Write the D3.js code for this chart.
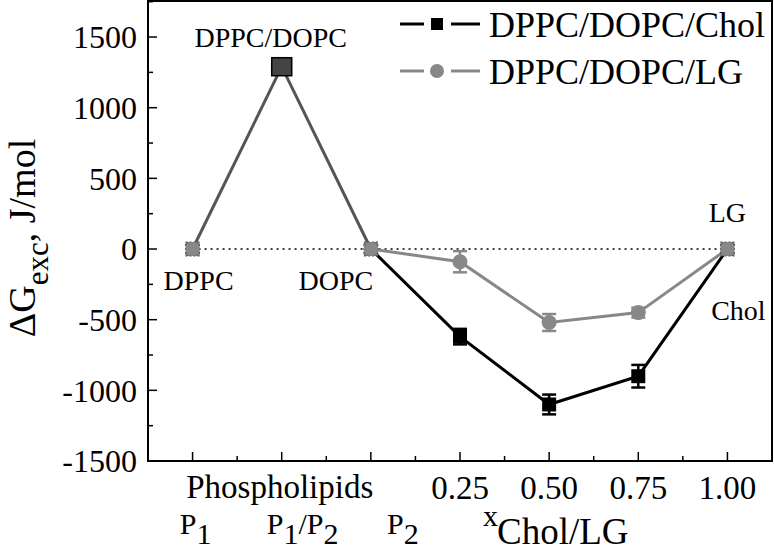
<!DOCTYPE html>
<html><head><meta charset="utf-8">
<script src="https://cdn.jsdelivr.net/npm/d3@7/dist/d3.min.js"></script>
<style>body{margin:0;background:#fff}svg{display:block}svg text{font-family:'Liberation Serif','Times New Roman',Tinos,serif}</style>
</head><body>
<svg id="c" width="774" height="551"></svg>
<script>
// Data
const categories = ["P1","P1/P2","P2","0.25","0.50","0.75","1.00"];
const phospholipidValues = [0, 1290, 0];
const cholValues = [0, -620, -1100, -900, 0];   // P2, 0.25, 0.50, 0.75, 1.00
const cholErrors = [0, 55, 70, 80, 0];
const lgValues = [0, -90, -520, -450, 0];
const lgErrors = [0, 75, 60, 35, 0];
const yTicks = [-1500, -1000, -500, 0, 500, 1000, 1500];
const seriesNames = ["DPPC/DOPC/Chol", "DPPC/DOPC/LG"];

const FONT = "'Liberation Serif','Times New Roman',Tinos,serif";
const svg = d3.select("#c");
const L = 148, R = 772, T = 1, B = 461;
const x = d3.scaleLinear().domain([-0.5, 6.5]).range([L, R]);
const y = d3.scaleLinear().domain([-1500, 1755]).range([B, T]);

// frame
svg.append("rect").attr("x", L).attr("y", T).attr("width", R - L).attr("height", B - T)
  .attr("fill", "none").attr("stroke", "#000").attr("stroke-width", 2);

// y axis
const yAxis = d3.axisLeft(y).tickValues(yTicks).tickSize(0).tickPadding(11).tickFormat(d => String(d));
const ga = svg.append("g").attr("transform", `translate(${L},0)`).call(yAxis);
ga.attr("font-family", FONT).attr("font-size", 32);
ga.select(".domain").remove();
ga.selectAll("text").attr("fill", "#000").attr("dy", "0.34em")
  .style("font-family", FONT).style("font-size", "32px");
const yMinor = d3.range(-1500, 1751, 250);
svg.append("g").selectAll("line").data(yMinor).join("line")
  .attr("x1", L).attr("x2", d => L + (d % 500 === 0 ? 9 : 5))
  .attr("y1", d => y(d)).attr("y2", d => y(d)).attr("stroke", "#000").attr("stroke-width", 1.5);

// x ticks inside
const xTickVals = d3.range(0, 6.01, 0.5);
svg.append("g").selectAll("line").data(xTickVals).join("line")
  .attr("x1", d => x(d)).attr("x2", d => x(d))
  .attr("y1", B).attr("y2", d => B - (Number.isInteger(d) ? 9 : 5))
  .attr("stroke", "#000").attr("stroke-width", 1.5);

// x tick labels 0.25..1.00
svg.append("g").selectAll("text").data(categories.slice(3)).join("text")
  .attr("x", (d, i) => x(i + 3)).attr("y", 499).attr("text-anchor", "middle")
  .attr("font-size", 33).text(d => d);
svg.append("text").attr("x", x(1) - 2).attr("y", 498).attr("text-anchor", "middle")
  .attr("font-size", 33).text("Phospholipids");

// P1, P1/P2, P2 labels with subscripts
function subLabel(xx, parts) {
  const t = svg.append("text").attr("x", xx).attr("y", 534).attr("text-anchor", "middle").attr("font-size", 30);
  parts.forEach(p => {
    const ts = t.append("tspan").text(p[0]);
    if (p[1] === "sub") ts.attr("dy", 10); else ts.attr("dy", -10);
  });
  t.select("tspan").attr("dy", 0);
}
subLabel(x(0) + 3, [["P"], ["1", "sub"]]);
subLabel(x(1) + 21, [["P"], ["1", "sub"], ["/P"], ["2", "sub"]]);
subLabel(x(2) + 32, [["P"], ["2", "sub"]]);
// x_Chol/LG
const xl = svg.append("text").attr("x", 483).attr("y", 526).attr("font-size", 30);
xl.append("tspan").text("x");
xl.append("tspan").attr("dy", 18).attr("font-size", 37).attr("dx", -1).text("Chol/LG");

// y axis title
const yt = svg.append("text").attr("transform", "translate(35,238) rotate(-90)")
  .attr("text-anchor", "middle").attr("font-size", 38);
yt.append("tspan").text("ΔG");
yt.append("tspan").attr("dy", 13).attr("font-size", 31).text("exc");
yt.append("tspan").attr("dy", -13).text(", J/mol");

// zero dotted line
svg.append("line").attr("x1", x(0)).attr("x2", x(6)).attr("y1", y(0)).attr("y2", y(0))
  .attr("stroke", "#000").attr("stroke-width", 1.5).attr("stroke-dasharray", "2,4");

const line = d3.line().x(d => x(d[0])).y(d => y(d[1]));

// phospholipid line
svg.append("path").datum(phospholipidValues.map((v, i) => [i, v])).attr("d", line)
  .attr("fill", "none").attr("stroke", "#555").attr("stroke-width", 3);

const cholPts = cholValues.map((v, i) => [i + 2, v, cholErrors[i]]);
const lgPts = lgValues.map((v, i) => [i + 2, v, lgErrors[i]]);

svg.append("path").datum(lgPts).attr("d", line).attr("fill", "none").attr("stroke", "#888").attr("stroke-width", 3);
svg.append("path").datum(cholPts).attr("d", line).attr("fill", "none").attr("stroke", "#000").attr("stroke-width", 3);

// error bars
function errBars(pts, color) {
  const g = svg.append("g").attr("stroke", color).attr("stroke-width", 2.5);
  pts.filter(p => p[2] > 0).forEach(p => {
    const cx = x(p[0]);
    g.append("line").attr("x1", cx).attr("x2", cx).attr("y1", y(p[1] + p[2])).attr("y2", y(p[1] - p[2]));
    [p[1] + p[2], p[1] - p[2]].forEach(v => g.append("line").attr("x1", cx - 7).attr("x2", cx + 7).attr("y1", y(v)).attr("y2", y(v)));
  });
}
errBars(lgPts, "#888");
errBars(cholPts, "#000");

// markers
svg.append("g").selectAll("rect").data(cholPts.slice(1, 4)).join("rect")
  .attr("x", d => x(d[0]) - 7).attr("y", d => y(d[1]) - 7).attr("width", 14).attr("height", 14).attr("fill", "#000");
svg.append("g").selectAll("circle").data(lgPts.slice(1, 4)).join("circle")
  .attr("cx", d => x(d[0])).attr("cy", d => y(d[1])).attr("r", 7.5).attr("fill", "#888");

// shared zero endpoints (P1, P2, 1.00)
const shared = [[0, 0], [2, 0], [6, 0]];
svg.append("g").selectAll("rect").data(shared).join("rect")
  .attr("x", d => x(d[0]) - 7).attr("y", d => y(d[1]) - 7).attr("width", 14).attr("height", 14)
  .attr("fill", "#777").attr("stroke", "#555").attr("stroke-width", 1).attr("stroke-dasharray", "2,2");
svg.append("g").selectAll("circle").data(shared).join("circle")
  .attr("cx", d => x(d[0])).attr("cy", d => y(d[1])).attr("r", 7).attr("fill", "#888");

// peak marker
svg.append("rect").attr("x", x(1) - 10).attr("y", y(phospholipidValues[1]) - 9).attr("width", 20).attr("height", 18)
  .attr("fill", "#444").attr("stroke", "#000").attr("stroke-width", 1.5);

// annotations
const ann = [["DPPC/DOPC", x(1) - 11, 47], ["DPPC", x(0) + 6, 290], ["DOPC", x(2) - 35, 290], ["LG", x(6), 222], ["Chol", x(6) + 11, 320]];
svg.append("g").selectAll("text").data(ann).join("text")
  .attr("x", d => d[1]).attr("y", d => d[2]).attr("text-anchor", "middle").attr("font-size", 28).text(d => d[0]);

// legend
const leg = svg.append("g");
[[24, "#000", "sq"], [71, "#888", "ci"]].forEach((l, i) => {
  leg.append("line").attr("x1", 400).attr("x2", 424).attr("y1", l[0]).attr("y2", l[0]).attr("stroke", l[1]).attr("stroke-width", 3);
  leg.append("line").attr("x1", 451).attr("x2", 480).attr("y1", l[0]).attr("y2", l[0]).attr("stroke", l[1]).attr("stroke-width", 3);
  if (l[2] === "sq") leg.append("rect").attr("x", 431).attr("y", l[0] - 6).attr("width", 12).attr("height", 12).attr("fill", "#000");
  else leg.append("circle").attr("cx", 437).attr("cy", l[0]).attr("r", 7).attr("fill", "#888");
  leg.append("text").attr("x", 489).attr("y", l[0] + 13).attr("font-size", 36).text(seriesNames[i]);
});
</script>
</body></html>
